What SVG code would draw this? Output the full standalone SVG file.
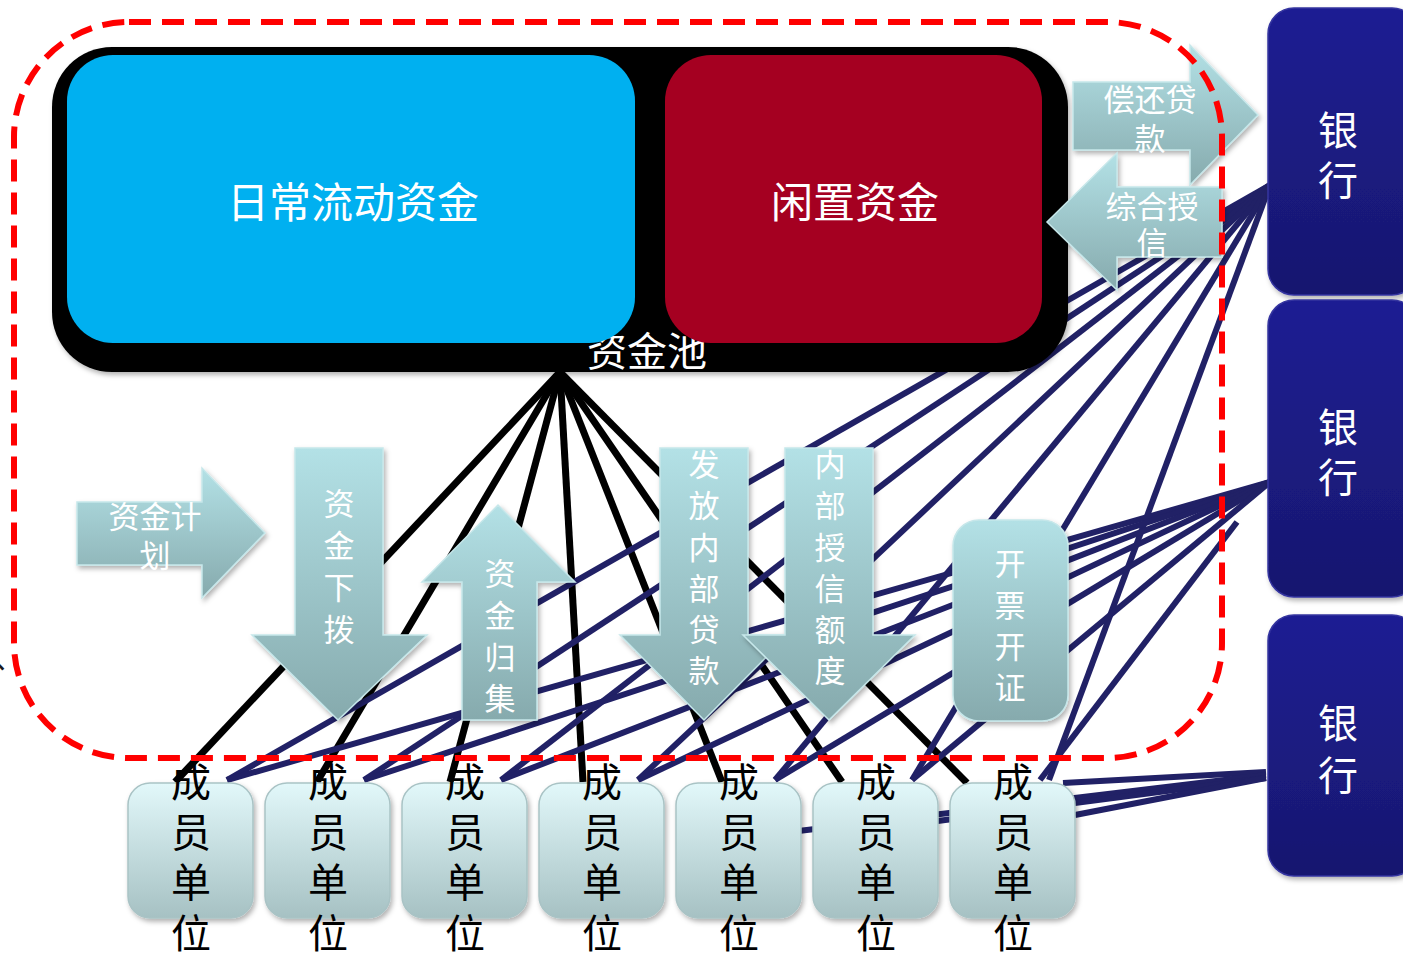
<svg xmlns="http://www.w3.org/2000/svg" width="1403" height="953" viewBox="0 0 1403 953">
<defs>
<style>
.cjk{font-family:"Noto Sans CJK SC","Noto Sans CJK TC",sans-serif;}
.wt{fill:#ffffff;}
.arrowtxt{font-size:31px;fill:#ffffff;text-anchor:middle;}
.unittxt{font-size:40px;fill:#000000;text-anchor:middle;}
.banktxt{font-size:40px;fill:#ffffff;text-anchor:middle;}
.blk{stroke:#000000;stroke-width:7;fill:none;}
.nv{stroke:#212166;stroke-width:6;fill:none;}
.arr{fill:url(#gArr);stroke:#C6E7EA;stroke-width:1.5;filter:url(#sh);}
.unit{fill:url(#gUnit);stroke:#A9C3C5;stroke-width:1.5;filter:url(#sh);}
.bank{fill:url(#gBank);stroke:#3535A0;stroke-width:1.5;filter:url(#sh);}
</style>
<linearGradient id="gArr" x1="0" y1="0" x2="0" y2="1">
<stop offset="0" stop-color="#B3E1E6"/>
<stop offset="1" stop-color="#86AAAD"/>
</linearGradient>
<linearGradient id="gUnit" x1="0" y1="0" x2="0" y2="1">
<stop offset="0" stop-color="#E2F8FA"/>
<stop offset="1" stop-color="#A6C1C3"/>
</linearGradient>
<linearGradient id="gBank" x1="0" y1="0" x2="0" y2="1">
<stop offset="0" stop-color="#1F1F93"/>
<stop offset="1" stop-color="#17176F"/>
</linearGradient>
<filter id="sh" x="-10%" y="-10%" width="125%" height="125%">
<feDropShadow dx="2" dy="3" stdDeviation="2.5" flood-color="#000000" flood-opacity="0.3"/>
</filter>
</defs>

<text class="cjk" x="-6" y="668" font-size="30" fill="#1a1a1a">、</text>

<g id="connectors">
<!-- black lines from pool hub -->
<path class="blk" d="M560,372 L175,782"/>
<path class="blk" d="M560,372 L317,782"/>
<path class="blk" d="M560,372 L450,782"/>
<path class="blk" d="M560,372 L583,782"/>
<path class="blk" d="M560,372 L722,782"/>
<path class="blk" d="M560,372 L842,782"/>
<path class="blk" d="M560,372 L967,783"/>
<!-- bank 1 -->
<path class="nv" d="M1270,185 L227,780"/>
<path class="nv" d="M1270,185 L364,780"/>
<path class="nv" d="M1270,185 L501,780"/>
<path class="nv" d="M1270,185 L638,780"/>
<path class="nv" d="M1270,185 L775,780"/>
<path class="nv" d="M1270,185 L912,780"/>
<path class="nv" d="M1270,185 L1049,780"/>
<!-- bank 2 -->
<path class="nv" d="M1270,482 L227,780"/>
<path class="nv" d="M1270,482 L364,780"/>
<path class="nv" d="M1270,482 L501,780"/>
<path class="nv" d="M1270,482 L638,780"/>
<path class="nv" d="M1270,482 L775,780"/>
<path class="nv" d="M1270,482 L912,780"/>
<path class="nv" d="M1237,522 L1040,780"/>
<!-- bank 3 -->
<path class="nv" d="M1266,772 L1063,783"/>
<path class="nv" d="M1266,775 L790,832"/>
<path class="nv" d="M1266,778 L930,822"/>
<path class="nv" d="M1266,778 L1075,815"/>
</g>

<g id="pool">
<rect x="52" y="47" width="1016" height="325" rx="60" fill="#000000" filter="url(#sh)"/>
<text class="cjk wt" x="647" y="366" font-size="40" text-anchor="middle">资金池</text>
</g>
<g id="daily">
<rect x="67" y="55" width="568" height="288" rx="46" fill="#00B0F0"/>
<text class="cjk wt" x="353" y="218" font-size="42" text-anchor="middle">日常流动资金</text>
</g>
<g id="idle">
<rect x="665" y="55" width="377" height="288" rx="46" fill="#A50021"/>
<text class="cjk wt" x="855" y="218" font-size="42" text-anchor="middle">闲置资金</text>
</g>

<g id="plan">
<polygon class="arr" points="77,502 202,502 202,468 265,533 202,598 202,565 77,565"/>
<text class="cjk arrowtxt" x="155" y="528">资金计</text>
<text class="cjk arrowtxt" x="155" y="567">划</text>
</g>
<g id="allocate">
<polygon class="arr" points="295,448 383,448 383,635 427,635 338,720 252,635 295,635"/>
<text class="cjk arrowtxt"><tspan x="339" y="515">资</tspan><tspan x="339" y="557">金</tspan><tspan x="339" y="599">下</tspan><tspan x="339" y="641">拨</tspan></text>
</g>
<g id="collect">
<polygon class="arr" points="498,505 575,582 537,582 537,720 462,720 462,582 422,582"/>
<text class="cjk arrowtxt"><tspan x="500" y="585">资</tspan><tspan x="500" y="627">金</tspan><tspan x="500" y="669">归</tspan><tspan x="500" y="710">集</tspan></text>
</g>
<g id="loan">
<polygon class="arr" points="660,448 748,448 748,635 788,635 704,720 620,635 660,635"/>
<text class="cjk arrowtxt"><tspan x="704" y="476">发</tspan><tspan x="704" y="517">放</tspan><tspan x="704" y="559">内</tspan><tspan x="704" y="600">部</tspan><tspan x="704" y="641">贷</tspan><tspan x="704" y="682">款</tspan></text>
</g>
<g id="credit">
<polygon class="arr" points="785,448 873,448 873,635 915,635 829,720 743,635 785,635"/>
<text class="cjk arrowtxt"><tspan x="830" y="476">内</tspan><tspan x="830" y="517">部</tspan><tspan x="830" y="559">授</tspan><tspan x="830" y="600">信</tspan><tspan x="830" y="641">额</tspan><tspan x="830" y="682">度</tspan></text>
</g>
<g id="invoice">
<rect class="arr" x="953" y="520" width="115" height="201" rx="26"/>
<text class="cjk arrowtxt"><tspan x="1010" y="575">开</tspan><tspan x="1010" y="617">票</tspan><tspan x="1010" y="658">开</tspan><tspan x="1010" y="699">证</tspan></text>
</g>
<g id="repay">
<polygon class="arr" points="1073,82 1190,82 1190,45 1258,115 1190,185 1190,150 1073,150"/>
<text class="cjk arrowtxt" x="1150" y="111">偿还贷</text>
<text class="cjk arrowtxt" x="1150" y="150">款</text>
</g>
<g id="bankcredit">
<polygon class="arr" points="1222,187 1117,187 1117,153 1047,222 1117,290 1117,257 1222,257"/>
<text class="cjk arrowtxt" x="1152" y="218">综合授</text>
<text class="cjk arrowtxt" x="1152" y="254">信</text>
</g>

<g id="unit1"><rect class="unit" x="128" y="783" width="125" height="135" rx="22"/><text class="cjk unittxt"><tspan x="191" y="797">成</tspan><tspan x="191" y="847">员</tspan><tspan x="191" y="897">单</tspan><tspan x="191" y="948">位</tspan></text></g>
<g id="unit2"><rect class="unit" x="265" y="783" width="125" height="135" rx="22"/><text class="cjk unittxt"><tspan x="328" y="797">成</tspan><tspan x="328" y="847">员</tspan><tspan x="328" y="897">单</tspan><tspan x="328" y="948">位</tspan></text></g>
<g id="unit3"><rect class="unit" x="402" y="783" width="125" height="135" rx="22"/><text class="cjk unittxt"><tspan x="465" y="797">成</tspan><tspan x="465" y="847">员</tspan><tspan x="465" y="897">单</tspan><tspan x="465" y="948">位</tspan></text></g>
<g id="unit4"><rect class="unit" x="539" y="783" width="125" height="135" rx="22"/><text class="cjk unittxt"><tspan x="602" y="797">成</tspan><tspan x="602" y="847">员</tspan><tspan x="602" y="897">单</tspan><tspan x="602" y="948">位</tspan></text></g>
<g id="unit5"><rect class="unit" x="676" y="783" width="125" height="135" rx="22"/><text class="cjk unittxt"><tspan x="739" y="797">成</tspan><tspan x="739" y="847">员</tspan><tspan x="739" y="897">单</tspan><tspan x="739" y="948">位</tspan></text></g>
<g id="unit6"><rect class="unit" x="813" y="783" width="125" height="135" rx="22"/><text class="cjk unittxt"><tspan x="876" y="797">成</tspan><tspan x="876" y="847">员</tspan><tspan x="876" y="897">单</tspan><tspan x="876" y="948">位</tspan></text></g>
<g id="unit7"><rect class="unit" x="950" y="783" width="125" height="135" rx="22"/><text class="cjk unittxt"><tspan x="1013" y="797">成</tspan><tspan x="1013" y="847">员</tspan><tspan x="1013" y="897">单</tspan><tspan x="1013" y="948">位</tspan></text></g>

<g id="boundary">
<rect x="14" y="22" width="1208" height="736" rx="115" fill="none" stroke="#FF0000" stroke-width="6" stroke-dasharray="22,11"/>
</g>

<g id="bank1"><rect class="bank" x="1268" y="8" width="150" height="287" rx="26"/><text class="cjk banktxt"><tspan x="1338" y="145">银</tspan><tspan x="1338" y="195">行</tspan></text></g>
<g id="bank2"><rect class="bank" x="1268" y="300" width="150" height="297" rx="26"/><text class="cjk banktxt"><tspan x="1338" y="442">银</tspan><tspan x="1338" y="492">行</tspan></text></g>
<g id="bank3"><rect class="bank" x="1268" y="615" width="150" height="261" rx="26"/><text class="cjk banktxt"><tspan x="1338" y="738">银</tspan><tspan x="1338" y="790">行</tspan></text></g>
</svg>
